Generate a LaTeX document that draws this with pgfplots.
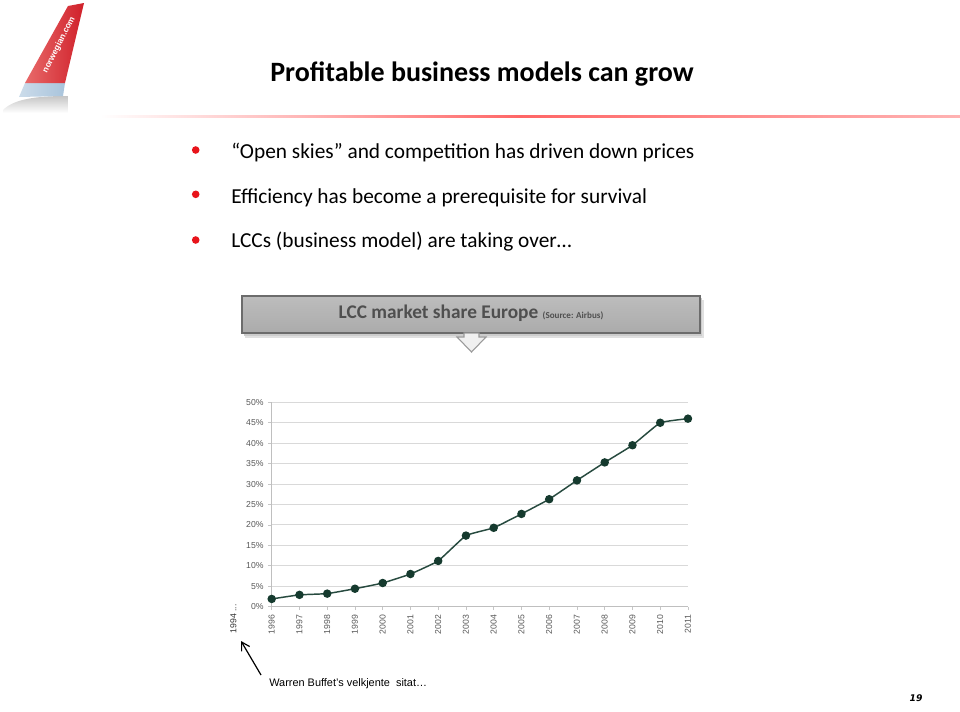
\documentclass[border=0pt]{standalone}
\usepackage{pgfplots}
\pgfplotsset{compat=1.18}
\usepackage{fontspec}
\setmainfont{Carlito}
\newfontfamily\arial{Liberation Sans}
\newfontfamily\dejavu{DejaVu Sans}
\usetikzlibrary{arrows.meta}
\definecolor{linec}{HTML}{274A3F}
\definecolor{markc}{HTML}{153A2E}
\definecolor{bulletred}{HTML}{E8141B}
\definecolor{tailred}{HTML}{D0202A}
\definecolor{tailred2}{HTML}{E86A6A}
\definecolor{bandblue}{HTML}{A9C4DC}
\definecolor{bannertxt}{HTML}{4F4F4F}
\definecolor{ticktxt}{HTML}{595959}
\begin{document}
\begin{tikzpicture}
\useasboundingbox (0,0) rectangle (720pt,-533.25pt);
\fill[white] (0,0) rectangle (720pt,-533.25pt);
\begin{scope}[x=0.75pt,y=-0.75pt]
  % logo tail
  \shade[top color=gray!45, bottom color=white] (3,110) .. controls (15,98) and (40,96) .. (68,96) -- (68,113) -- (3,113) -- cycle;
  \shade[left color=bandblue!60!white, right color=bandblue] (25,83) -- (65,83) -- (63,96) -- (19,97) -- cycle;
  \shade[left color=tailred2, right color=tailred] (68,6) -- (84,3) -- (65,83) -- (25,83) -- cycle;
  \node[rotate=63, text=white, font=\arial\bfseries\fontsize{6.3}{7}\selectfont] at (59,45) {norwegian.com};
  % title
  \node[anchor=base, inner sep=0, font=\bfseries\fontsize{21}{25}\selectfont] at (482,81) {Profitable business models can grow};
  % underline
  \shade[left color=white, right color=red!60] (100,115.3) rectangle (520,117);
  \shade[left color=red!60, right color=red!30] (520,115.3) rectangle (960,117);
  % bullets
  \fill[bulletred] (195.7,150) circle (3.8);
  \fill[bulletred] (195.7,194.3) circle (3.8);
  \fill[bulletred] (195.7,240) circle (3.8);
  \node[anchor=base west, inner sep=0, font=\fontsize{16}{19}\selectfont] at (231,158) {“Open skies” and competition has driven down prices};
  \node[anchor=base west, inner sep=0, font=\fontsize{16}{19}\selectfont] at (231,203) {Efficiency has become a prerequisite for survival};
  \node[anchor=base west, inner sep=0, font=\fontsize{16}{19}\selectfont] at (231,247) {LCCs (business model) are taking over…};
  % banner
  \fill[black!12] (245,300) rectangle (704,338);
  \fill[black!20] (244,298) rectangle (702,336);
  \shade[top color=gray!52, bottom color=gray!66, draw=gray!85!black, line width=0.8pt] (242,296) rectangle (700,333);
  \node[anchor=base, inner sep=0, text=bannertxt] at (471,318.3) {\bfseries\fontsize{14.5}{17}\selectfont LCC market share Europe \fontsize{6.8}{8}\selectfont(Source: Airbus)};
  \filldraw[fill=gray!12, draw=gray!80, line width=0.8pt] (464,333) -- (479,333) -- (479,337) -- (486,337) -- (471.5,352) -- (457,337) -- (464,337) -- cycle;
  % annotation
  \node[rotate=90, anchor=east, inner sep=0, text=black!80, font=\arial\fontsize{6.5}{7}\selectfont] at (233.5,604) {1994 ...};
  \draw[line width=0.9pt, -{Straight Barb[length=6pt,width=7pt]}] (261,675) -- (241,641);
  \node[anchor=base west, inner sep=0, font=\arial\fontsize{8.2}{10}\selectfont] at (269,686) {Warren Buffet’s velkjente\ \ sitat…};
  % page number
  \node[anchor=base, inner sep=0, font=\dejavu\bfseries\itshape\fontsize{6.9}{8}\selectfont] at (916,701) {19};
\end{scope}
\begin{axis}[
  at={(203.775pt,-455.025pt)}, anchor=south west,
  scale only axis, width=312.2pt, height=153.3pt,
  xmin=1996, xmax=2011, ymin=0, ymax=50,
  xtick={1996,1997,...,2011}, ytick={0,5,...,50},
  yticklabel={\pgfmathprintnumber{\tick}\%},
  x tick label style={rotate=90, anchor=east, /pgf/number format/1000 sep={}},
  axis x line*=bottom, axis y line*=left,
  axis line style={draw=gray!50, line width=0.7pt},
  tick align=outside, major tick length=2.6pt,
  tick style={draw=gray!45, line width=0.6pt},
  ymajorgrids, grid style={draw=gray!30, line width=0.8pt},
  ticklabel style={font=\arial\fontsize{6.5}{7}\selectfont, text=ticktxt},
  /pgf/number format/assume math mode=true,
  clip=false,
]
\addplot[color=linec, line width=1.1pt, mark=*, mark size=2.6pt, mark options={fill=markc, draw=markc}, smooth, tension=0.2] coordinates {
(1996,1.9) (1997,2.9) (1998,3.2) (1999,4.4) (2000,5.8) (2001,8.0) (2002,11.2) (2003,17.4) (2004,19.3) (2005,22.7) (2006,26.3) (2007,30.9) (2008,35.3) (2009,39.5) (2010,45.0) (2011,46.0)
};
\end{axis}
\end{tikzpicture}
\end{document}
